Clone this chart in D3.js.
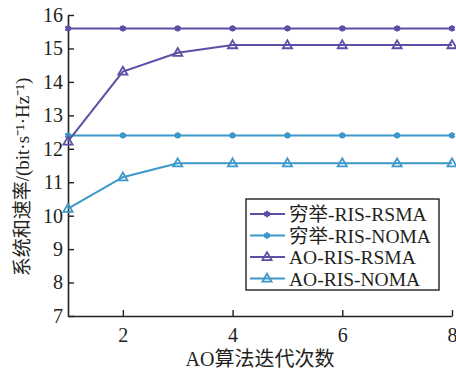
<!DOCTYPE html>
<html>
<head>
<meta charset="utf-8">
<script src="https://cdn.jsdelivr.net/npm/d3@7"></script>
<style>
  body { margin: 0; background: #fff; }
  text { font-family: "Liberation Serif", "Noto Sans CJK SC", serif; fill: #231f20; }
</style>
</head>
<body>
<div id="chart"></div>
<script>
// data
var iterations = [1, 2, 3, 4, 5, 6, 7, 8];
var exhRSMA = [15.6, 15.6, 15.6, 15.6, 15.6, 15.6, 15.6, 15.6];
var exhNOMA = [12.4, 12.4, 12.4, 12.4, 12.4, 12.4, 12.4, 12.4];
var aoRSMA = [12.22, 14.31, 14.87, 15.1, 15.1, 15.1, 15.1, 15.1];
var aoNOMA = [10.21, 11.15, 11.57, 11.57, 11.57, 11.57, 11.57, 11.57];
var seriesNames = ["穷举-RIS-RSMA", "穷举-RIS-NOMA", "AO-RIS-RSMA", "AO-RIS-NOMA"];
var xTicks = [2, 4, 6, 8];
var yTicks = [7, 8, 9, 10, 11, 12, 13, 14, 15, 16];

var purple = "#5b4fa6";
var blue = "#3b98c9";

var series = [
  { name: seriesNames[0], values: exhRSMA, color: purple, marker: "star" },
  { name: seriesNames[1], values: exhNOMA, color: blue, marker: "star" },
  { name: seriesNames[2], values: aoRSMA, color: purple, marker: "tri" },
  { name: seriesNames[3], values: aoNOMA, color: blue, marker: "tri" }
];

var svgWidth = 456;
var svgHeight = 371;
var margin = { top: 15, right: 4, bottom: 55, left: 68 };
var width = svgWidth - margin.left - margin.right;
var height = svgHeight - margin.top - margin.bottom;

var svg = d3.select("#chart").append("svg")
  .attr("width", svgWidth)
  .attr("height", svgHeight);

var g = svg.append("g")
  .attr("transform", `translate(${margin.left}, ${margin.top})`);

var x = d3.scaleLinear().domain([1, 8]).range([0, width]);
var y = d3.scaleLinear().domain([7, 16]).range([height, 0]);

// axes with inward ticks
var xAxis = g.append("g")
  .attr("transform", `translate(0, ${height})`)
  .call(d3.axisBottom(x).tickValues(xTicks).tickFormat(d3.format("d"))
    .tickSizeInner(-6).tickSizeOuter(0).tickPadding(12));
var yAxis = g.append("g")
  .call(d3.axisLeft(y).tickValues(yTicks).tickFormat(d3.format("d"))
    .tickSizeInner(-6).tickSizeOuter(0).tickPadding(5));

[xAxis, yAxis].forEach(function(a) {
  a.select(".domain").attr("stroke", "#231f20").attr("stroke-width", 1.6);
  a.selectAll(".tick line").attr("stroke", "#231f20").attr("stroke-width", 1.4);
  a.selectAll(".tick text")
    .style("font-size", "20px")
    .attr("fill", "#231f20");
});

var line = d3.line()
  .x(function(d, i) { return x(iterations[i]); })
  .y(function(d) { return y(d); });

var star = d3.symbol().type(d3.symbolAsterisk).size(28);
var tri = d3.symbol().type(d3.symbolTriangle).size(36);

function drawMarker(sel, s) {
  if (s.marker === "star") {
    sel.append("path").attr("d", star)
      .attr("fill", "none").attr("stroke", s.color).attr("stroke-width", 2.2);
    sel.append("circle").attr("r", 2.2).attr("fill", s.color);
  } else {
    sel.append("path").attr("d", tri)
      .attr("transform", "translate(0,0.5)")
      .attr("fill", "none").attr("stroke", s.color).attr("stroke-width", 1.8);
  }
}

series.forEach(function(s) {
  g.append("path")
    .datum(s.values)
    .attr("fill", "none")
    .attr("stroke", s.color)
    .attr("stroke-width", 2)
    .attr("d", line);
  s.values.forEach(function(v, i) {
    var m = g.append("g").attr("transform", `translate(${x(iterations[i])}, ${y(v)})`);
    drawMarker(m, s);
  });
});

// legend
var legend = svg.append("g").attr("transform", "translate(246, 199)");
legend.append("rect")
  .attr("width", 193).attr("height", 91)
  .attr("fill", "#fff").attr("stroke", "#231f20").attr("stroke-width", 1.4);

series.forEach(function(s, i) {
  var row = legend.append("g").attr("transform", `translate(0, ${15 + i * 21.5})`);
  row.append("line")
    .attr("x1", 4).attr("x2", 39).attr("y1", 0).attr("y2", 0)
    .attr("stroke", s.color).attr("stroke-width", 2);
  drawMarker(row.append("g").attr("transform", "translate(21,0)"), s);
  row.append("text")
    .attr("x", 43).attr("y", 7)
    .style("font-size", "19.5px")
    .text(s.name);
});

// axis titles
svg.append("text")
  .attr("x", 260)
  .attr("y", 366)
  .attr("text-anchor", "middle")
  .style("font-size", "20px")
  .text("AO算法迭代次数");

svg.append("text")
  .attr("transform", "translate(29, 177) rotate(-90)")
  .attr("text-anchor", "middle")
  .style("font-size", "19px")
  .text("系统和速率/(bit·s⁻¹·Hz⁻¹)");
</script>
</body>
</html>
